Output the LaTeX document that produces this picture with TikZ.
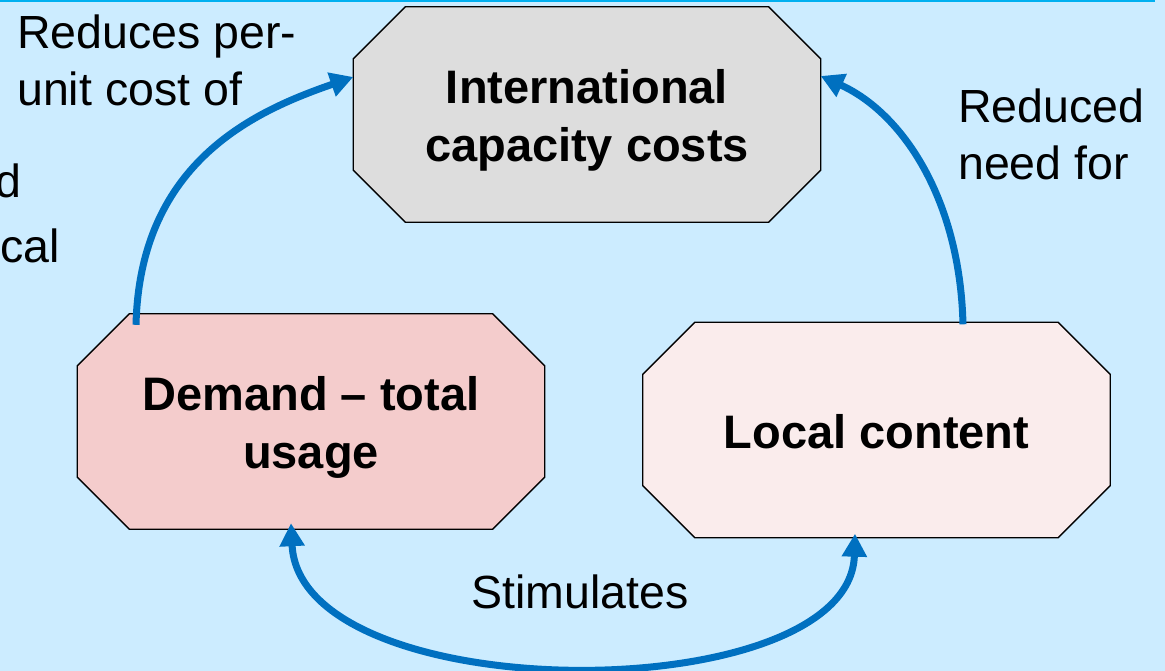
\documentclass[tikz,border=0pt]{standalone}
\usepackage{fontspec}
\setmainfont{Liberation Sans}
\usetikzlibrary{arrows.meta,backgrounds}
\definecolor{bgblue}{RGB}{204,236,255}
\definecolor{topline}{RGB}{0,176,240}
\definecolor{arrowblue}{RGB}{0,112,192}
\definecolor{boxgray}{RGB}{221,221,221}
\definecolor{boxpink}{RGB}{244,204,204}
\definecolor{boxpale}{RGB}{250,236,236}
\newcommand{\tstr}{\rule{0pt}{48pt}}
\newcommand{\bstr}{\rule[-12pt]{0pt}{12pt}}
\newcommand{\octpath}[1]{([xshift=52pt]#1.north west) -- ([xshift=-52pt]#1.north east) -- ([yshift=-52pt]#1.north east) -- ([yshift=52pt]#1.south east) -- ([xshift=-52pt]#1.south east) -- ([xshift=52pt]#1.south west) -- ([yshift=52pt]#1.south west) -- ([yshift=-52pt]#1.north west) -- cycle}
\begin{document}
\begin{tikzpicture}[x=1pt,y=1pt,
 octa/.style={rectangle, minimum width=467pt, minimum height=215pt, inner sep=0pt,
   align=center, font=\fontsize{47}{58}\selectfont\bfseries},
 octline/.style={draw=black, line width=1.3pt},
 lbl/.style={inner sep=0pt, font=\fontsize{46.5}{57.5}\selectfont},
 loopa/.style={draw=arrowblue, line width=7pt, -{Triangle[width=24pt,length=23pt]}},
 loopb/.style={draw=arrowblue, line width=7pt, {Triangle[width=24pt,length=23pt]}-{Triangle[width=24pt,length=23pt]}},
]
\useasboundingbox (0,0) rectangle (1165,-671);

\node[octa] (intl) at (587,-114.5) {\tstr International\\capacity costs\bstr};
\node[octa] (dem) at (311,-421.5) {\tstr Demand – total\\usage\bstr};
\node[octa] (loc) at (876.5,-430) {\tstr Local content\bstr};

\begin{scope}[on background layer]
\fill[bgblue] (0,0) rectangle (1165,-671);
\draw[topline, line width=2.5pt] (0,-1.25) -- (1155,-1.25);
\filldraw[octline, fill=boxgray] \octpath{intl};
\filldraw[octline, fill=boxpink] \octpath{dem};
\filldraw[octline, fill=boxpale] \octpath{loc};
\end{scope}

\draw[loopa] ([xshift=-175pt,yshift=-11pt]dem.north) .. controls +(4,165) and +(-95,-33) .. ([yshift=37.5pt]intl.west);
\draw[loopa] ([xshift=86.5pt,yshift=-2pt]loc.north) .. controls +(-3,125) and +(82,-37) .. ([yshift=38.5pt]intl.east);
\draw[loopb] ([xshift=-20pt,yshift=6pt]dem.south) .. controls +(9,-187) and +(-5,-177) .. ([xshift=-21.5pt,yshift=4pt]loc.south);

\node[lbl, anchor=north west, align=left] (lblcost) at (17,0) {\tstr Reduces per-\\unit cost of};
\node[lbl, anchor=north west, align=left] (lblneed) at (958,-74) {\tstr Reduced\\need for};
\node[lbl, anchor=base] (lblstim) at (580,-608) {Stimulates};
\node[lbl, anchor=base east] (lbld) at (22,-198) {d};
\node[lbl, anchor=base east] (lblcal) at (60,-262) {cal};
\end{tikzpicture}
\end{document}
